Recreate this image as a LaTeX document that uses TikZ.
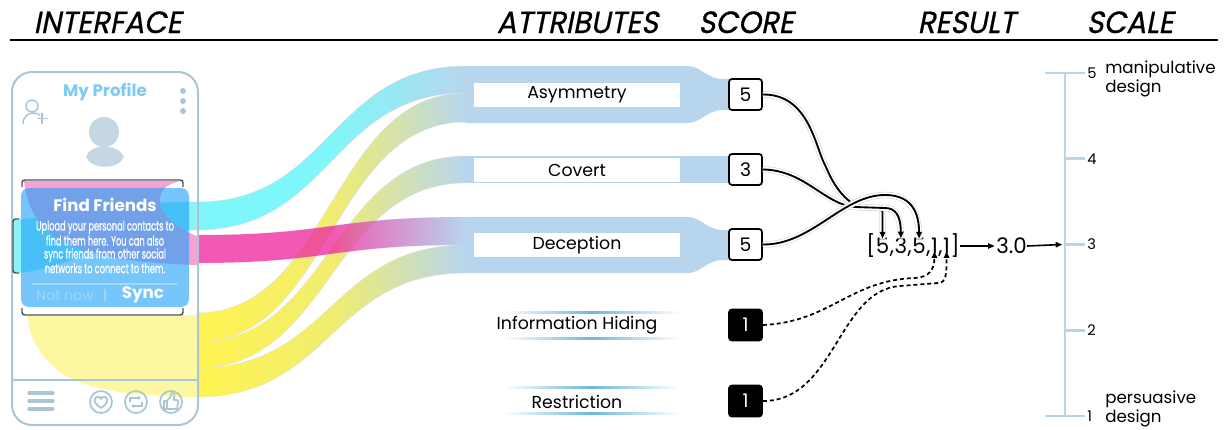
\documentclass[tikz,border=0pt]{standalone}
\usepackage{fontspec}
\setmainfont{Poppins}
\newfontfamily\headfont{Poppins}[FakeSlant=0.2, FakeStretch=0.95, FakeBold=0.7]
\newfontfamily\condfont{Poppins}[FakeStretch=0.62, FakeBold=0.7]
\usetikzlibrary{arrows.meta}
\definecolor{phonec}{HTML}{A9C5D6}
\definecolor{titlec}{HTML}{7DCBF4}
\definecolor{avac}{HTML}{C4D7E2}
\definecolor{popc}{HTML}{1AA0F8}
\definecolor{cyanc}{HTML}{7FF6F9}
\definecolor{pinkdeep}{HTML}{ED2FA2}
\definecolor{pinkblue}{HTML}{A5CAE9}
\definecolor{yelc}{HTML}{FFF350}
\definecolor{bandc}{HTML}{B7D6EE}
\definecolor{palepink}{HTML}{F6A3D3}
\definecolor{palecyan}{HTML}{8CF2F8}
\definecolor{paleyel}{HTML}{FDF7A2}
\definecolor{brc}{HTML}{555555}
\definecolor{linec}{HTML}{6DB6E0}
\definecolor{notnowc}{HTML}{9ED6FA}
\tikzset{
 hdr/.style={font=\headfont\fontsize{23}{26}\selectfont, anchor=base, inner sep=0},
 attrbox/.style={fill=white, minimum width=154.5pt, minimum height=18pt, inner sep=0, font=\fontsize{13}{15}\selectfont},
 attrtxt/.style={inner sep=0, font=\fontsize{13}{15}\selectfont},
 scorebox/.style={draw=black, line width=1.3pt, fill=white, rounded corners=2.25pt, minimum width=24.75pt, minimum height=23.25pt, inner sep=0, font=\fontsize{14}{16}\selectfont},
 blackbox/.style={scorebox, fill=black, text=white},
 res/.style={inner sep=0, anchor=base west, font=\fontsize{16}{18}\selectfont},
 conn/.style={line width=1.4pt, -{Triangle[length=5pt,width=4pt]}, preaction={draw=black!15, line width=4.8pt, -}, preaction={draw=white, line width=3.8pt, -}},
 dconn/.style={line width=1.3pt, dash pattern=on 3pt off 2.2pt, -{Triangle[length=5pt,width=4pt]}},
 plainarrow/.style={line width=1.2pt, -{Triangle[length=5pt,width=4pt]}},
 flow/.style={draw=black!12, line width=0.3pt},
 band/.style={fill=bandc},
 tick/.style={draw=bandc, line width=2.2pt},
 ticklab/.style={anchor=west, inner sep=0, font=\fontsize{11}{12}\selectfont},
 phoneline/.style={draw=phonec, line width=1.5pt},
 bracket/.style={draw=brc, line width=1.1pt, rounded corners=2pt},
 fadeline/.style={left color=white, right color=white, middle color=linec},
}
\begin{document}
\begin{tikzpicture}[x=0.75pt,y=-0.75pt]
\useasboundingbox (0,0) rectangle (1228,429);

% headers
\node[hdr] (hInterface) at (107.5,33) {INTERFACE};
\node[hdr] (hAttr) at (577.5,33) {ATTRIBUTES};
\node[hdr] (hScore) at (746,33) {SCORE};
\node[hdr] (hResult) at (966.5,33) {RESULT};
\node[hdr] (hScale) at (1130,33) {SCALE};
\draw[line width=1.5pt] (10,40) -- (1218,40);

% inner phone coloured regions
\fill[paleyel] (28,315) -- (199,315) -- (199,397) .. controls (150,397) and (90,393) .. (60,372) .. controls (38,355) and (28,335) .. (28,315) -- cycle;
\fill[palecyan] (13,219) .. controls (60,219) and (120,200) .. (199,202) -- (199,230) .. controls (120,232) and (60,273) .. (13,273) -- cycle;
\fill[palepink] (24,181) -- (181,181) .. controls (150,186) and (150,218) .. (199,237) -- (199,265) .. controls (80,262) and (30,240) .. (24,181) -- cycle;

% flows
\path[flow, left color=yelc, right color=bandc, middle color=yelc!80!bandc] (197,368) .. controls (331,368) and (331,245) .. (466,245) -- (466,273) .. controls (331,273) and (331,397) .. (197,397) -- cycle;
\path[flow, left color=yelc, right color=bandc, middle color=yelc!80!bandc] (197,342) .. controls (331,342) and (331,156) .. (466,156) -- (466,183) .. controls (331,183) and (331,368) .. (197,368) -- cycle;
\path[flow, left color=yelc, right color=bandc, middle color=yelc!80!bandc] (197,313) .. controls (331,313) and (331,93) .. (466,93) -- (466,122) .. controls (331,122) and (331,342) .. (197,342) -- cycle;
\path[flow, left color=cyanc, right color=bandc, middle color=cyanc] (197,202) .. controls (331,202) and (331,66) .. (466,66) -- (466,93) .. controls (331,93) and (331,230) .. (197,230) -- cycle;
\path[flow, fill opacity=0.8, draw opacity=0.4, left color=pinkdeep, right color=pinkblue, middle color=pinkdeep] (197,235) .. controls (331,235) and (331,217) .. (466,217) -- (466,245) .. controls (331,245) and (331,263) .. (197,263) -- cycle;

% blue bands
\fill[band] (465,66) -- (688,66) .. controls (700,66) and (708,79) .. (722,79) -- (731,79) -- (731,110) -- (722,110) .. controls (708,110) and (700,123) .. (688,123) -- (465,123) -- cycle;
\fill[band] (465,156) -- (731,156) -- (731,183) -- (465,183) -- cycle;
\fill[band] (465,217) -- (688,217) .. controls (700,217) and (708,230) .. (722,230) -- (731,230) -- (731,260) -- (722,260) .. controls (708,260) and (700,273) .. (688,273) -- (465,273) -- cycle;

% phone
\draw[phoneline, rounded corners=15pt] (12,72) rectangle (198,425);
\draw[phoneline] (12,380) -- (198,380);
\node[font=\bfseries\fontsize{12.5}{14}\selectfont, text=titlec, inner sep=0] (myprofile) at (105,92) {My Profile};
\fill[phonec] (183,91) circle (3) (183,101) circle (3) (183,111) circle (3);
\draw[phonec, line width=1.1pt] (32,106) circle (6);
\draw[phonec, line width=1.1pt] (23,124) .. controls (23,116) and (29,113) .. (33,113) .. controls (36,113) and (39,114) .. (40,115);
\draw[phonec, line width=1.1pt] (42,113) -- (42,124) (36.5,118.5) -- (47.5,118.5);
\fill[avac] (104,132) circle (15);
\fill[avac] (86,157) .. controls (90,143) and (118,143) .. (124,157) .. controls (118,170) and (92,170) .. (86,157) -- cycle;

% brackets
\draw[bracket] (22,187) -- (22,180) -- (183,180) -- (183,187);
\draw[bracket] (22,308) -- (22,315) -- (183,315) -- (183,308);
\draw[bracket] (19,219) -- (13,219) -- (13,273) -- (19,273);

% popup
\fill[popc, fill opacity=0.6, rounded corners=6pt] (21,188) rectangle (189,307);
\node[font=\bfseries\fontsize{12.5}{14}\selectfont, text=white, inner sep=0] (findfriends) at (105,205) {Find Friends};
\node[font=\condfont\fontsize{10}{9.75}\selectfont, text=white, align=center, inner sep=0] (popbody) at (105,247) {Upload your personal contacts to\\find them here. You can also\\sync friends from other social\\networks to connect to them.};
\draw[white, opacity=0.35, line width=0.8pt] (32,284) -- (177,284);
\node[font=\fontsize{10.5}{12}\selectfont, text=notnowc, inner sep=0] (notnow) at (65,296) {Not now};
\draw[notnowc, line width=0.8pt] (105,289) -- (105,301);
\node[font=\bfseries\fontsize{12.5}{14}\selectfont, text=white, inner sep=0] (sync) at (143,295) {Sync};

% bottom icons
\draw[phonec, line width=2.4pt, line cap=round] (29,393) -- (53,393) (29,401) -- (53,401) (29,409) -- (53,409);
\draw[phonec, line width=1.3pt] (101,402) circle (11) (136,402) circle (11) (171,402) circle (11);
\draw[phonec, line width=1.3pt, line join=round] (101,408) .. controls (95,404) and (94,401) .. (95,399) .. controls (96,396) and (100,396) .. (101,399) .. controls (102,396) and (106,396) .. (107,399) .. controls (108,401) and (107,404) .. (101,408) -- cycle;
\draw[phonec, line width=1.2pt, -{Stealth[length=2.5pt,width=3pt]}] (130,402) -- (130,398) -- (141,398);
\draw[phonec, line width=1.2pt, -{Stealth[length=2.5pt,width=3pt]}] (142,402) -- (142,406) -- (131,406);
\draw[phonec, line width=1.2pt, line join=round] (164,401) rectangle (167,409);
\draw[phonec, line width=1.2pt, line join=round] (167,401) -- (171,396) -- (171.5,393) .. controls (174,392) and (175,394) .. (174.5,396) -- (173.5,400) -- (177,400) .. controls (179,400) and (179,402) .. (178,403) -- (177,409) -- (167,409);

% attribute labels
\node[attrbox] (a1) at (577,95) {Asymmetry};
\node[attrbox] (a2) at (577,170) {Covert};
\node[attrbox] (a3) at (577,245) {Deception};
\node[attrtxt] (a4) at (577,325) {Information Hiding};
\node[attrtxt] (a5) at (577,402) {Restriction};
\shade[fadeline] (503,311) rectangle (680,313.5);
\shade[fadeline] (503,337) rectangle (680,339.5);
\shade[fadeline] (503,386) rectangle (680,388.5);
\shade[fadeline] (503,412) rectangle (680,414.5);

% scores
\node[scorebox] (s1) at (745.5,94.5) {5};
\node[scorebox] (s2) at (745.5,169.5) {3};
\node[scorebox] (s3) at (745.5,244.5) {5};
\node[blackbox] (s4) at (745.5,325) {1};
\node[blackbox] (s5) at (745.5,401) {1};

% result vector
\node[res] (rbl) at (866,253) {[};
\node[res] (r1) at (rbl.base east) {5};
\node[res] (rc1) at (r1.base east) {,};
\node[res] (r2) at (rc1.base east) {3};
\node[res] (rc2) at (r2.base east) {,};
\node[res] (r3) at (rc2.base east) {5};
\node[res] (rc3) at (r3.base east) {,};
\node[res] (r4) at (rc3.base east) {1};
\node[res] (rc4) at (r4.base east) {,};
\node[res] (r5) at (rc4.base east) {1};
\node[res] (rbr) at (r5.base east) {]};
\node[res] (v) at (996,253) {3.0};

% connectors
\draw[conn, rounded corners=3pt] (s1.east) .. controls (808,94) and (815,145) .. (826,167) .. controls (836,190) and (850,207) .. (870,208) -- (r1.north |- 0,208) -- ([yshift=-1pt]r1.north);
\draw[conn] (s2.east) .. controls (805,170) and (825,205) .. (855,207) -- (885,208) .. controls (895,208) and (r2.north |- 0,215) .. ([yshift=-1pt]r2.north);
\draw[conn] (s3.east) .. controls (812,245) and (842,195) .. (885,195) .. controls (905,195) and (r3.north |- 0,205) .. ([yshift=-1pt]r3.north);
\draw[dconn] (s4.east) .. controls (830,322) and (850,280) .. (915,278) .. controls (929,277) and (r4.south |- 0,270) .. ([yshift=1.5pt]r4.south);
\draw[dconn] (s5.east) .. controls (835,401) and (838,290) .. (900,286) -- (938,283) .. controls (946,283) and (r5.south |- 0,275) .. ([yshift=1.5pt]r5.south);

% scale
\coordinate (t5) at (1065,73);
\coordinate (t4) at (1065,158.75);
\coordinate (t3) at (1065,244.5);
\coordinate (t2) at (1065,330.25);
\coordinate (t1) at (1065,416);
\draw[tick] (t5) -- (t1);
\draw[tick] (1045,73) -- (1085,73);
\draw[tick] (1045,416) -- (1085,416);
\draw[tick] (t4) -- (1085,158.75);
\draw[tick] (t3) -- (1085,244.5);
\draw[tick] (t2) -- (1085,330.25);
\node[ticklab] (l5) at (1087,73) {5};
\node[ticklab] (l4) at (1087,158.75) {4};
\node[ticklab] (l3) at (1087,244.5) {3};
\node[ticklab] (l2) at (1087,330.25) {2};
\node[ticklab] (l1) at (1087,416) {1};
\node[anchor=west, align=left, inner sep=0, font=\fontsize{12.5}{12.75}\selectfont] (manip) at (1105,79) {manipulative\\design};
\node[anchor=west, align=left, inner sep=0, font=\fontsize{12.5}{12.75}\selectfont] (persu) at (1105,409) {persuasive\\design};

% result arrows
\draw[plainarrow] (rbr.east |- 0,246) -- ([xshift=-1pt]v.west |- 0,246);
\draw[plainarrow] (v.east |- 0,246) -- ([xshift=-2pt]t3);
\end{tikzpicture}
\end{document}
